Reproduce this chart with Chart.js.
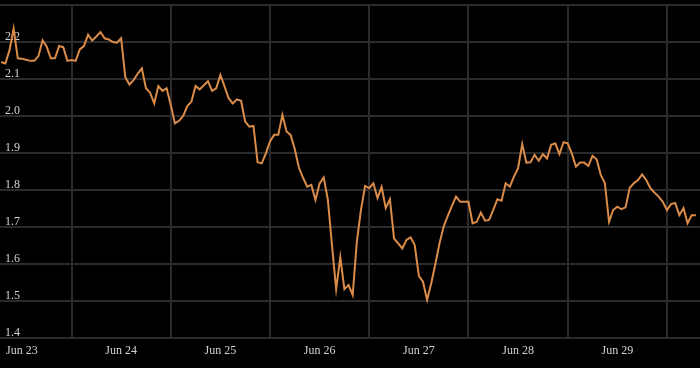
<!DOCTYPE html>
<html lang="en">
<head>
  <meta charset="UTF-8">
  <title>Price chart</title>
  <script src="https://cdn.jsdelivr.net/npm/chart.js"></script>
  <style>
    html, body {
      margin: 0;
      padding: 0;
      background: #000;
    }
  </style>
</head>
<body>
  <canvas id="priceChart" width="700" height="368"></canvas>

  <script>
    // hourly closes, first one at 19:00 on Jun 22 (hour -5 relative to Jun 23 00:00)
    const firstHour = -5;
    const prices = [
      2.146, 2.142, 2.178, 2.236, 2.156, 2.155, 2.152, 2.149, 2.149, 2.162,
      2.205, 2.187, 2.156, 2.156, 2.189, 2.186, 2.149, 2.151, 2.149, 2.180,
      2.189, 2.220, 2.204, 2.215, 2.227, 2.210, 2.207, 2.200, 2.198, 2.210,
      2.105, 2.085, 2.097, 2.114, 2.129, 2.075, 2.063, 2.034, 2.081, 2.068,
      2.075, 2.030, 1.980, 1.987, 2.000, 2.027, 2.039, 2.081, 2.072, 2.083,
      2.094, 2.068, 2.075, 2.111, 2.080, 2.048, 2.034, 2.045, 2.041, 1.985,
      1.971, 1.973, 1.875, 1.872, 1.899, 1.931, 1.949, 1.949, 2.003, 1.958,
      1.949, 1.910, 1.860, 1.833, 1.809, 1.814, 1.773, 1.818, 1.834, 1.773,
      1.650, 1.532, 1.618, 1.532, 1.543, 1.516, 1.660, 1.746, 1.811, 1.805,
      1.818, 1.778, 1.808, 1.751, 1.775, 1.669, 1.656, 1.642, 1.665, 1.672,
      1.651, 1.568, 1.552, 1.503, 1.548, 1.600, 1.656, 1.701, 1.730, 1.757,
      1.782, 1.768, 1.768, 1.768, 1.710, 1.714, 1.739, 1.717, 1.719, 1.746,
      1.775, 1.771, 1.818, 1.809, 1.836, 1.859, 1.924, 1.874, 1.875, 1.895,
      1.879, 1.897, 1.885, 1.922, 1.926, 1.897, 1.929, 1.926, 1.899, 1.863,
      1.874, 1.874, 1.865, 1.892, 1.883, 1.841, 1.818, 1.714, 1.746, 1.755,
      1.748, 1.753, 1.806, 1.818, 1.827, 1.842, 1.827, 1.805, 1.793, 1.782,
      1.768, 1.746, 1.762, 1.765, 1.732, 1.751, 1.710, 1.732, 1.732
    ];

    const dayTicks = [0, 24, 48, 72, 96, 120, 144, 168];
    const dayLabels = ["Jun 23", "Jun 24", "Jun 25", "Jun 26", "Jun 27", "Jun 28", "Jun 29", "Jun 30"];

    const yMin = 1.4;
    const yMax = 2.3;
    const yStep = 0.1;

    const gridColor = "#2b2b2b";
    const labelColor = "#d2d2d2";
    const labelFont = { family: "'Liberation Serif', 'Times New Roman', serif", size: 12 };

    const points = prices.map((p, i) => ({ x: firstHour + i, y: p }));

    const ctx = document.getElementById("priceChart").getContext("2d");
    new Chart(ctx, {
      type: "line",
      data: {
        datasets: [{
          data: points,
          borderColor: "#da8c48",
          borderWidth: 2,
          pointRadius: 0,
          tension: 0,
          fill: false
        }]
      },
      options: {
        responsive: false,
        animation: false,
        layout: { padding: { top: 5, bottom: 8, left: 0, right: 0 } },
        plugins: {
          legend: { display: false },
          tooltip: { enabled: false }
        },
        scales: {
          x: {
            type: "linear",
            min: -5.3,
            max: 164,
            afterBuildTicks: scale => {
              scale.ticks = dayTicks.map(v => ({ value: v }));
            },
            afterFit: scale => {
              scale.paddingLeft = 0;
              scale.paddingRight = 0;
              scale.height = 22;
            },
            border: { display: false },
            grid: { offset: true, color: gridColor, lineWidth: 2, drawTicks: false },
            ticks: {
              autoSkip: false,
              maxRotation: 0,
              padding: 6,
              color: labelColor,
              font: labelFont,
              callback: (value, index) => dayLabels[index]
            }
          },
          y: {
            min: yMin,
            max: yMax,
            afterFit: scale => {
              scale.width = 0;
              scale.paddingTop = 0;
              scale.paddingBottom = 0;
            },
            border: { display: false },
            grid: { color: gridColor, lineWidth: 2, drawTicks: false },
            ticks: {
              stepSize: yStep,
              mirror: true,
              padding: 5,
              labelOffset: -5.5,
              color: labelColor,
              font: labelFont,
              // top line (2.3) has no label in the original
              callback: value => value > yMax - yStep / 2 ? "" : value.toFixed(1)
            }
          }
        }
      }
    });
  </script>
</body>
</html>
